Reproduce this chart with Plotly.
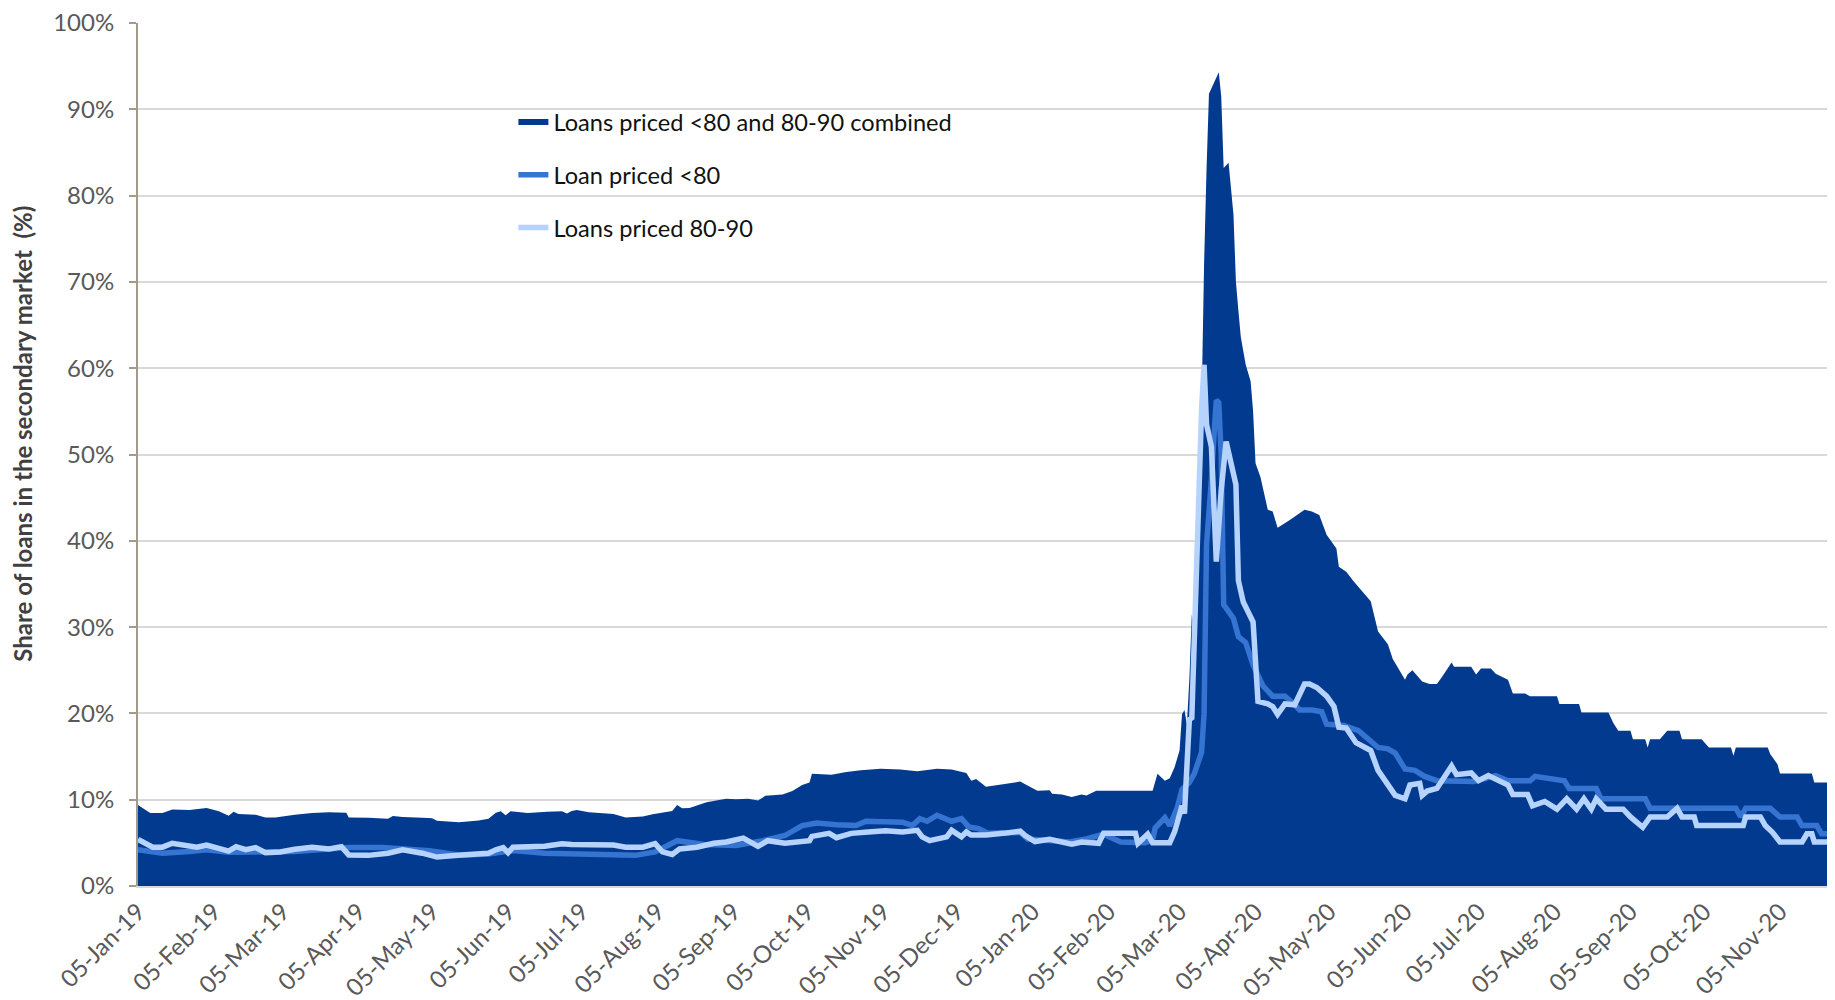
import plotly.graph_objects as go

# ---------------- data ----------------
comb_dates = [
    "2019-01-05", "2019-01-07", "2019-01-10", "2019-01-15", "2019-01-19", "2019-01-26", "2019-02-02", "2019-02-07",
    "2019-02-11", "2019-02-13", "2019-02-15", "2019-02-22", "2019-02-26", "2019-03-02", "2019-03-10", "2019-03-17",
    "2019-03-24", "2019-03-31", "2019-04-01", "2019-04-09", "2019-04-17", "2019-04-19", "2019-04-23", "2019-05-01",
    "2019-05-05", "2019-05-07", "2019-05-16", "2019-05-24", "2019-05-28", "2019-05-31", "2019-06-02", "2019-06-04",
    "2019-06-06", "2019-06-13", "2019-06-21", "2019-06-27", "2019-06-29", "2019-07-01", "2019-07-03", "2019-07-08",
    "2019-07-18", "2019-07-23", "2019-07-30", "2019-08-03", "2019-08-11", "2019-08-13", "2019-08-15", "2019-08-18",
    "2019-08-25", "2019-09-02", "2019-09-06", "2019-09-11", "2019-09-15", "2019-09-18", "2019-09-25", "2019-09-29",
    "2019-10-03", "2019-10-06", "2019-10-07", "2019-10-15", "2019-10-21", "2019-10-27", "2019-11-04", "2019-11-12",
    "2019-11-19", "2019-11-27", "2019-12-03", "2019-12-09", "2019-12-11", "2019-12-13", "2019-12-17", "2019-12-24",
    "2019-12-31", "2020-01-02", "2020-01-07", "2020-01-12", "2020-01-13", "2020-01-17", "2020-01-21", "2020-01-25",
    "2020-01-27", "2020-01-31", "2020-02-23", "2020-02-25", "2020-02-28", "2020-03-01", "2020-03-03", "2020-03-05",
    "2020-03-06", "2020-03-07", "2020-03-08", "2020-03-09", "2020-03-10", "2020-03-11", "2020-03-12", "2020-03-13",
    "2020-03-14", "2020-03-15", "2020-03-16", "2020-03-17", "2020-03-21", "2020-03-22", "2020-03-23", "2020-03-25",
    "2020-03-27", "2020-03-28", "2020-03-29", "2020-03-30", "2020-04-01", "2020-04-03", "2020-04-04", "2020-04-05",
    "2020-04-07", "2020-04-10", "2020-04-12", "2020-04-14", "2020-04-19", "2020-04-25", "2020-04-28", "2020-05-01",
    "2020-05-04", "2020-05-08", "2020-05-09", "2020-05-12", "2020-05-15", "2020-05-22", "2020-05-25", "2020-05-29",
    "2020-05-31", "2020-06-05", "2020-06-06", "2020-06-08", "2020-06-12", "2020-06-15", "2020-06-18", "2020-06-20",
    "2020-06-24", "2020-06-25", "2020-07-02", "2020-07-04", "2020-07-06", "2020-07-10", "2020-07-12", "2020-07-17",
    "2020-07-19", "2020-07-24", "2020-07-26", "2020-08-06", "2020-08-07", "2020-08-15", "2020-08-16", "2020-08-27",
    "2020-08-29", "2020-08-31", "2020-09-05", "2020-09-06", "2020-09-11", "2020-09-12", "2020-09-13", "2020-09-17",
    "2020-09-20", "2020-09-25", "2020-09-26", "2020-10-04", "2020-10-07", "2020-10-16", "2020-10-17", "2020-10-18",
    "2020-10-31", "2020-11-01", "2020-11-04", "2020-11-05", "2020-11-18", "2020-11-19", "2020-11-25",
]
comb_vals = [
    9.4, 9.0, 8.45, 8.45, 8.85, 8.8, 9.05, 8.65,
    8.15, 8.6, 8.35, 8.25, 7.95, 7.95, 8.25, 8.45,
    8.55, 8.5, 7.95, 7.9, 7.8, 8.1, 8.0, 7.9,
    7.85, 7.55, 7.4, 7.6, 7.8, 8.5, 8.65, 8.2,
    8.65, 8.45, 8.6, 8.65, 8.4, 8.7, 8.8, 8.55,
    8.35, 7.95, 8.05, 8.3, 8.7, 9.4, 9.0, 9.05,
    9.7, 10.1, 10.05, 10.1, 9.9, 10.45, 10.6, 11.0,
    11.7, 12.0, 13.0, 12.9, 13.2, 13.4, 13.6, 13.5,
    13.3, 13.6, 13.5, 13.1, 12.2, 12.4, 11.5, 11.8,
    12.1, 11.8, 11.05, 11.1, 10.7, 10.6, 10.3, 10.6,
    10.5, 11.05, 11.05, 13.0, 12.2, 12.5, 13.8, 15.7,
    19.9, 20.4, 18.7, 24.0, 31.5, 29.5, 40.0, 46.0,
    56.0, 72.0, 83.0, 91.8, 94.3, 91.5, 83.2, 83.8,
    77.8, 70.0, 66.7, 63.6, 60.4, 58.5, 55.0, 49.0,
    47.4, 43.6, 43.4, 41.5, 42.4, 43.6, 43.4, 43.0,
    40.7, 39.1, 37.0, 36.4, 35.3, 33.0, 29.5, 28.0,
    26.3, 23.9, 24.5, 25.0, 23.7, 23.4, 23.4, 24.2,
    25.9, 25.4, 25.4, 24.5, 25.2, 25.2, 24.6, 23.9,
    22.3, 22.3, 22.0, 22.0, 21.1, 21.1, 20.1, 20.1,
    18.9, 18.0, 18.0, 17.0, 17.0, 16.05, 17.0, 17.0,
    18.0, 18.0, 17.0, 17.0, 16.05, 16.05, 15.1, 16.05,
    16.05, 15.3, 14.1, 13.05, 13.05, 12.0, 12.0,
]

lt80_dates = [
    "2019-01-05", "2019-01-11", "2019-01-15", "2019-01-26", "2019-02-02", "2019-02-11", "2019-02-25", "2019-03-10",
    "2019-04-01", "2019-04-15", "2019-05-04", "2019-05-17", "2019-05-28", "2019-06-07", "2019-06-20", "2019-06-30",
    "2019-07-14", "2019-07-27", "2019-08-04", "2019-08-13", "2019-08-24", "2019-09-06", "2019-09-17", "2019-09-26",
    "2019-10-03", "2019-10-09", "2019-10-17", "2019-10-25", "2019-10-29", "2019-11-07", "2019-11-13", "2019-11-17",
    "2019-11-20", "2019-11-23", "2019-11-27", "2019-12-03", "2019-12-07", "2019-12-10", "2019-12-14", "2019-12-18",
    "2019-12-26", "2019-12-31", "2020-01-03", "2020-01-12", "2020-01-20", "2020-01-27", "2020-02-03", "2020-02-10",
    "2020-02-20", "2020-02-23", "2020-02-24", "2020-02-28", "2020-03-01", "2020-03-04", "2020-03-06", "2020-03-09",
    "2020-03-11", "2020-03-14", "2020-03-15", "2020-03-16", "2020-03-17", "2020-03-18", "2020-03-19", "2020-03-20",
    "2020-03-21", "2020-03-22", "2020-03-23", "2020-03-25", "2020-03-27", "2020-03-29", "2020-04-01", "2020-04-04",
    "2020-04-08", "2020-04-12", "2020-04-17", "2020-04-21", "2020-04-23", "2020-04-28", "2020-05-02", "2020-05-04",
    "2020-05-11", "2020-05-17", "2020-05-25", "2020-05-29", "2020-06-01", "2020-06-05", "2020-06-09", "2020-06-13",
    "2020-06-18", "2020-07-03", "2020-07-12", "2020-07-17", "2020-07-26", "2020-07-28", "2020-08-09", "2020-08-11",
    "2020-08-22", "2020-08-24", "2020-09-11", "2020-09-13", "2020-10-18", "2020-10-20", "2020-10-22", "2020-11-01",
    "2020-11-05", "2020-11-12", "2020-11-14", "2020-11-20", "2020-11-22", "2020-11-25",
]
lt80_vals = [
    4.2, 3.95, 3.8, 4.0, 4.2, 3.9, 4.0, 4.0,
    4.45, 4.45, 4.1, 3.55, 3.7, 4.1, 3.8, 3.75,
    3.65, 3.55, 3.95, 5.25, 4.8, 4.7, 5.25, 5.85,
    7.0, 7.3, 7.1, 7.0, 7.5, 7.5, 7.4, 7.0,
    7.8, 7.5, 8.2, 7.5, 7.8, 6.85, 6.65, 6.1,
    6.1, 6.2, 5.45, 5.25, 5.1, 5.45, 6.0, 5.1,
    5.0, 5.3, 6.7, 7.9, 7.0, 9.0, 11.2, 12.0,
    13.0, 15.5, 20.0, 39.5, 43.0, 47.1, 52.0, 56.3,
    56.0, 50.0, 32.6, 31.9, 31.0, 28.9, 28.2, 25.6,
    23.2, 22.0, 22.0, 21.0, 20.4, 20.4, 20.2, 18.75,
    18.6, 18.0, 16.05, 15.9, 15.4, 13.55, 13.4, 12.7,
    12.2, 12.1, 12.8, 12.2, 12.2, 12.7, 12.2, 11.3,
    11.3, 10.1, 10.1, 9.0, 9.0, 8.0, 9.0, 9.0,
    8.0, 8.0, 7.0, 7.0, 6.05, 6.05,
]

r8090_dates = [
    "2019-01-05", "2019-01-11", "2019-01-15", "2019-01-19", "2019-01-29", "2019-02-02", "2019-02-11", "2019-02-14",
    "2019-02-18", "2019-02-22", "2019-02-26", "2019-03-04", "2019-03-10", "2019-03-17", "2019-03-24", "2019-03-29",
    "2019-04-01", "2019-04-09", "2019-04-17", "2019-04-23", "2019-05-01", "2019-05-07", "2019-05-17", "2019-05-28",
    "2019-05-31", "2019-06-03", "2019-06-05", "2019-06-07", "2019-06-20", "2019-06-27", "2019-07-01", "2019-07-18",
    "2019-07-23", "2019-07-30", "2019-08-04", "2019-08-07", "2019-08-11", "2019-08-14", "2019-08-21", "2019-08-28",
    "2019-09-02", "2019-09-09", "2019-09-15", "2019-09-19", "2019-09-26", "2019-10-06", "2019-10-07", "2019-10-14",
    "2019-10-17", "2019-10-23", "2019-10-30", "2019-11-06", "2019-11-13", "2019-11-19", "2019-11-21", "2019-11-24",
    "2019-12-01", "2019-12-03", "2019-12-07", "2019-12-09", "2019-12-11", "2019-12-17", "2019-12-24", "2019-12-31",
    "2020-01-02", "2020-01-06", "2020-01-12", "2020-01-17", "2020-01-21", "2020-01-25", "2020-02-01", "2020-02-03",
    "2020-02-16", "2020-02-17", "2020-02-21", "2020-02-23", "2020-03-01", "2020-03-03", "2020-03-05", "2020-03-06",
    "2020-03-07", "2020-03-09", "2020-03-10", "2020-03-12", "2020-03-13", "2020-03-14", "2020-03-15", "2020-03-16",
    "2020-03-18", "2020-03-20", "2020-03-22", "2020-03-24", "2020-03-28", "2020-03-29", "2020-03-31", "2020-04-04",
    "2020-04-05", "2020-04-06", "2020-04-10", "2020-04-12", "2020-04-14", "2020-04-17", "2020-04-21", "2020-04-25",
    "2020-04-27", "2020-04-30", "2020-05-04", "2020-05-07", "2020-05-09", "2020-05-12", "2020-05-16", "2020-05-22",
    "2020-05-25", "2020-05-28", "2020-06-01", "2020-06-05", "2020-06-07", "2020-06-11", "2020-06-12", "2020-06-14",
    "2020-06-18", "2020-06-24", "2020-06-26", "2020-07-02", "2020-07-05", "2020-07-09", "2020-07-17", "2020-07-19",
    "2020-07-25", "2020-07-27", "2020-08-01", "2020-08-06", "2020-08-10", "2020-08-14", "2020-08-17", "2020-08-20",
    "2020-08-22", "2020-08-26", "2020-09-02", "2020-09-05", "2020-09-10", "2020-09-13", "2020-09-20", "2020-09-24",
    "2020-09-26", "2020-10-01", "2020-10-02", "2020-10-21", "2020-10-22", "2020-10-28", "2020-10-30", "2020-11-02",
    "2020-11-05", "2020-11-14", "2020-11-16", "2020-11-18", "2020-11-19", "2020-11-25",
]
r8090_vals = [
    5.4, 4.5, 4.5, 4.95, 4.5, 4.75, 4.05, 4.55,
    4.2, 4.45, 3.85, 3.95, 4.25, 4.5, 4.3, 4.55,
    3.6, 3.55, 3.8, 4.2, 3.8, 3.35, 3.6, 3.8,
    4.2, 4.45, 3.85, 4.5, 4.6, 4.9, 4.8, 4.75,
    4.5, 4.5, 4.9, 3.95, 3.65, 4.3, 4.5, 4.95,
    5.1, 5.55, 4.6, 5.25, 4.95, 5.25, 5.75, 6.1,
    5.6, 6.1, 6.25, 6.4, 6.25, 6.45, 5.7, 5.25,
    5.7, 6.45, 5.7, 6.25, 5.9, 5.9, 6.1, 6.35,
    5.85, 5.15, 5.4, 5.1, 4.85, 5.1, 4.95, 6.1,
    6.1, 4.95, 6.0, 5.0, 5.0, 6.3, 8.3, 9.3,
    8.4, 19.3, 19.5, 38.0, 49.0, 55.3, 60.4, 53.5,
    50.9, 37.6, 45.9, 51.5, 46.5, 35.4, 32.9, 30.6,
    26.0, 21.4, 21.1, 20.8, 19.9, 21.1, 21.0, 23.4,
    23.4, 23.0, 22.0, 20.8, 18.4, 18.3, 16.6, 15.7,
    13.4, 12.2, 10.5, 10.1, 11.7, 11.9, 10.5, 11.0,
    11.3, 13.9, 12.9, 13.1, 12.2, 12.8, 11.7, 10.6,
    10.6, 9.3, 9.8, 8.9, 10.1, 8.9, 10.1, 8.9,
    10.1, 8.9, 8.9, 8.0, 6.8, 8.0, 8.0, 9.0,
    8.0, 8.0, 7.0, 7.0, 8.0, 8.0, 7.0, 6.2,
    5.1, 5.1, 6.05, 6.05, 5.1, 5.1,
]

tick_dates = [
    "2019-01-05", "2019-02-05", "2019-03-05", "2019-04-05", "2019-05-05", "2019-06-05", "2019-07-05", "2019-08-05",
    "2019-09-05", "2019-10-05", "2019-11-05", "2019-12-05", "2020-01-05", "2020-02-05", "2020-03-05", "2020-04-05",
    "2020-05-05", "2020-06-05", "2020-07-05", "2020-08-05", "2020-09-05", "2020-10-05", "2020-11-05",
]

series_names = [
    "Loans priced <80 and 80-90 combined",
    "Loan priced <80",
    "Loans priced 80-90",
]
y_title = "Share of loans in the secondary market  (%)"

# ---------------- style ----------------
DARK = "#023a8f"
MED = "#3674d2"
LIGHT = "#b6d3fd"
FONT = "Lato"

fig = go.Figure()
fig.add_trace(go.Scatter(
    x=comb_dates, y=comb_vals, mode="none", fill="tozeroy", fillcolor=DARK,
    name=series_names[0], legendgroup="g1", hoverinfo="skip",
))
fig.add_trace(go.Scatter(
    x=lt80_dates, y=lt80_vals, mode="lines", line=dict(color=MED, width=5.5),
    name=series_names[1], legendgroup="g2", hoverinfo="skip",
))
fig.add_trace(go.Scatter(
    x=r8090_dates, y=r8090_vals, mode="lines", line=dict(color=LIGHT, width=5.5),
    name=series_names[2], legendgroup="g3", hoverinfo="skip",
))

fig.update_layout(
    width=1835, height=1000,
    margin=dict(l=130, r=14, t=15, b=122, autoexpand=False),
    paper_bgcolor="white", plot_bgcolor="white",
    font=dict(family=FONT, color="#595959"),
    showlegend=True,
    legend=dict(
        x=0.222, y=0.9105, xanchor="left", yanchor="top",
        bgcolor="rgba(0,0,0,0)", font=dict(family=FONT, size=23.6, color="#111111"),
        traceorder="grouped", tracegroupgap=19, itemwidth=30,
    ),
    xaxis=dict(
        type="date", range=["2019-01-05", "2020-11-25"],
        tickvals=tick_dates, tickformat="%d-%b-%y", tickangle=-45,
        tickfont=dict(family=FONT, size=24, color="#595959"),
        showgrid=False, zeroline=False, showline=True, linecolor="#d9d9d9", linewidth=2,
        ticks="", automargin=False,
    ),
    yaxis=dict(
        range=[0, 100], dtick=10, ticksuffix="%",
        tickfont=dict(family=FONT, size=24, color="#595959"),
        showgrid=True, gridcolor="#d9d9d9", gridwidth=2, zeroline=False,
        showline=True, linecolor="#a39a8c", linewidth=2,
        ticks="outside", ticklen=7, tickwidth=2, tickcolor="#a39a8c",
        ticklabelstandoff=10, ticklabeloverflow="allow",
        automargin=False,
    ),
    annotations=[dict(
        text=y_title, textangle=-90, showarrow=False,
        xref="paper", yref="paper", x=0, y=0.524, xanchor="center", yanchor="middle",
        xshift=-115,
        font=dict(family=FONT, size=24, color="#404040", weight="bold"),
    )],
)

fig.write_html("out.html")
